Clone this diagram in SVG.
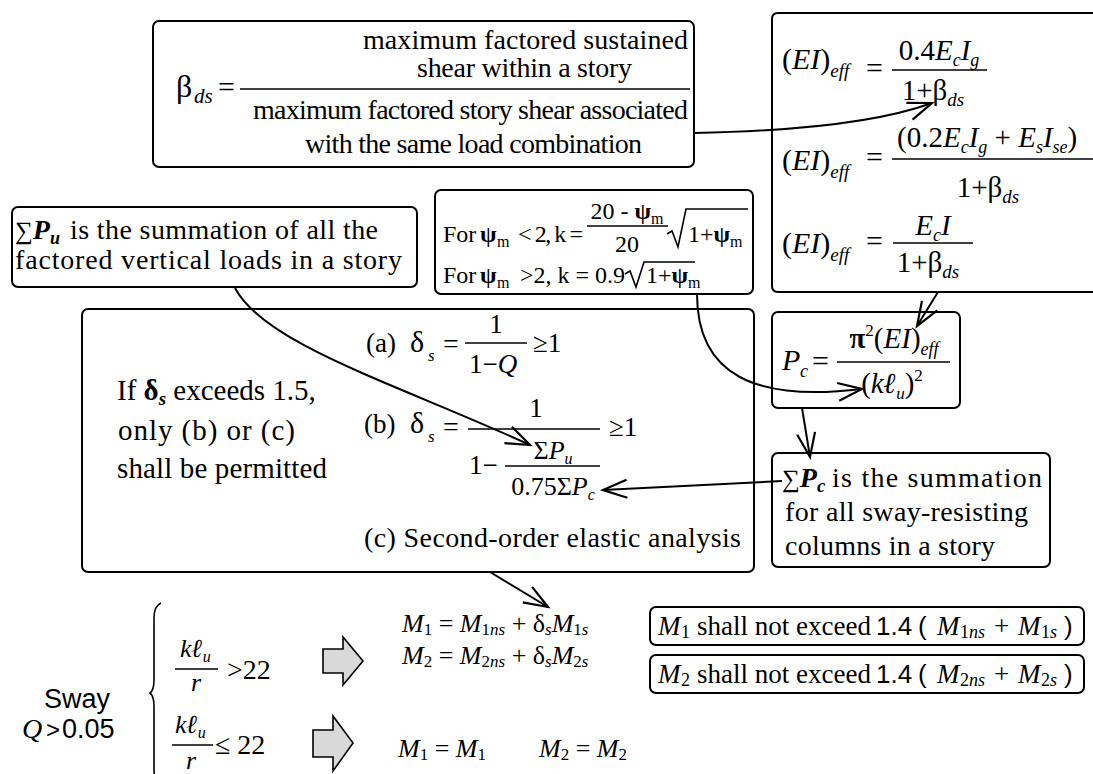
<svg xmlns="http://www.w3.org/2000/svg" width="1093" height="774" viewBox="0 0 1093 774">
<defs>
<style>
.t{font-family:"Liberation Serif","Times New Roman",serif;fill:#000}
.i{font-style:italic}
.b{font-weight:bold}
.s{font-family:"Liberation Sans",Arial,sans-serif}
.box{fill:#fff;stroke:#000;stroke-width:2}
.ln{stroke:#000;stroke-width:1.6;fill:none}
.c{fill:none;stroke:#000;stroke-width:2;marker-end:url(#ah)}
.blk{fill:#d9d9d9;stroke:#000;stroke-width:1.6}
</style>
<marker id="ah" viewBox="-26 -13 30 26" markerWidth="30" markerHeight="26" refX="0" refY="0" orient="auto" markerUnits="userSpaceOnUse">
<path d="M-24,-9 L0,0 L-24,9" fill="none" stroke="#000" stroke-width="2.2"/>
</marker>
</defs>
<rect width="1093" height="774" fill="#fff"/>

<g id="n-beta">
<rect class="box" x="153" y="21" width="541" height="146" rx="6"/>
<text class="t" x="176" y="97" font-size="32">β</text>
<text class="t i" x="194" y="103" font-size="21">ds</text>
<text class="t" x="218" y="97" font-size="30">=</text>
<line class="ln" x1="240" y1="89" x2="690" y2="89"/>
<text class="t" x="363" y="49" font-size="28" textLength="325">maximum factored sustained</text>
<text class="t" x="417" y="77" font-size="28" textLength="215">shear within a story</text>
<text class="t" x="253" y="119" font-size="28" textLength="435">maximum  factored story shear associated</text>
<text class="t" x="305" y="153" font-size="28" textLength="337">with the same load combination</text>
</g>

<g id="n-ei">
<path class="box" d="M1100,13 H778 Q772,13 772,19 V286 Q772,292 778,292 H1100"/>
<text class="t" x="782" y="69" font-size="30">(<tspan class="i">EI</tspan>)<tspan class="i" font-size="19" dy="8">eff</tspan></text>
<text class="t" x="866" y="78" font-size="30">=</text>
<line class="ln" x1="892" y1="70" x2="987" y2="70"/>
<text class="t" x="939" y="60" font-size="29" text-anchor="middle">0.4<tspan class="i">E</tspan><tspan class="i" font-size="18" dy="6">c</tspan><tspan class="i" dy="-6">I</tspan><tspan class="i" font-size="18" dy="6">g</tspan></text>
<text class="t" x="933" y="100" font-size="29" text-anchor="middle">1+β<tspan class="i" font-size="19" dy="6">ds</tspan></text>

<text class="t" x="782" y="170" font-size="30">(<tspan class="i">EI</tspan>)<tspan class="i" font-size="19" dy="8">eff</tspan></text>
<text class="t" x="866" y="167" font-size="30">=</text>
<line class="ln" x1="892" y1="159" x2="1093" y2="159"/>
<text class="t" x="897" y="147" font-size="29">(0.2<tspan class="i">E</tspan><tspan class="i" font-size="18" dy="6">c</tspan><tspan class="i" dy="-6">I</tspan><tspan class="i" font-size="18" dy="6">g</tspan><tspan dy="-6"> + </tspan><tspan class="i">E</tspan><tspan class="i" font-size="18" dy="6">s</tspan><tspan class="i" dy="-6">I</tspan><tspan class="i" font-size="18" dy="6">se</tspan><tspan dy="-6">)</tspan></text>
<text class="t" x="988" y="197" font-size="29" text-anchor="middle">1+β<tspan class="i" font-size="19" dy="6">ds</tspan></text>

<text class="t" x="782" y="253" font-size="30">(<tspan class="i">EI</tspan>)<tspan class="i" font-size="19" dy="8">eff</tspan></text>
<text class="t" x="866" y="251" font-size="30">=</text>
<line class="ln" x1="893" y1="243" x2="973" y2="243"/>
<text class="t" x="933" y="235" font-size="29" text-anchor="middle"><tspan class="i">E</tspan><tspan class="i" font-size="18" dy="6">c</tspan><tspan class="i" dy="-6">I</tspan></text>
<text class="t" x="928" y="272" font-size="29" text-anchor="middle">1+β<tspan class="i" font-size="19" dy="6">ds</tspan></text>
</g>

<g id="n-sumpu">
<rect class="box" x="12" y="207" width="405" height="80" rx="6"/>
<text class="t" x="15" y="239" font-size="25">∑<tspan class="b i" font-size="28">P</tspan><tspan class="b i" font-size="18" dy="5">u</tspan></text>
<text class="t" x="70" y="239" font-size="28" textLength="308">is the summation of all the</text>
<text class="t" x="15" y="269" font-size="28" textLength="387">factored vertical loads  in  a  story</text>
</g>

<g id="n-psi">
<rect class="box" x="435" y="190" width="318" height="104" rx="6"/>
<text class="t" x="443" y="242" font-size="24">For</text>
<text class="t b" x="480" y="242" font-size="24">ψ</text>
<text class="t" x="497" y="247" font-size="16">m</text>
<text class="t" x="518" y="242" font-size="24" textLength="65">&lt; 2, k =</text>
<text class="t" x="627" y="219" font-size="24" text-anchor="middle">20 - <tspan class="b">ψ</tspan><tspan font-size="16" dy="5">m</tspan></text>
<line class="ln" x1="587" y1="226" x2="668" y2="226"/>
<text class="t" x="627" y="252" font-size="24" text-anchor="middle">20</text>
<path class="ln" d="M667,234 L672,231 L678,247 L686,209 H748"/>
<text class="t" x="688" y="242" font-size="24">1+<tspan class="b">ψ</tspan><tspan font-size="16" dy="5">m</tspan></text>
<text class="t" x="443" y="283" font-size="24">For</text>
<text class="t b" x="480" y="283" font-size="24">ψ</text>
<text class="t" x="497" y="288" font-size="16">m</text>
<text class="t" x="520" y="283" font-size="24" textLength="105">&gt;2, k = 0.9</text>
<path class="ln" d="M625,274 L630,271 L636,287 L644,262 H695"/>
<text class="t" x="646" y="283" font-size="24">1+<tspan class="b">ψ</tspan><tspan font-size="16" dy="5">m</tspan></text>
</g>

<g id="n-delta">
<rect class="box" x="82" y="309" width="672" height="263" rx="6"/>
<text class="t" x="117" y="400" font-size="29">If <tspan class="b">δ</tspan><tspan class="b i" font-size="19" dy="5">s</tspan><tspan dy="-5"> exceeds  1.5,</tspan></text>
<text class="t" x="118" y="440" font-size="29" textLength="177">only  (b)  or  (c)</text>
<text class="t" x="117" y="478" font-size="29" textLength="210">shall  be permitted</text>

<text class="t" x="366" y="352" font-size="27">(a)</text>
<text class="t" x="410" y="352" font-size="30">δ</text>
<text class="t i" x="428" y="361" font-size="17">s</text>
<text class="t" x="443" y="353" font-size="28">=</text>
<line class="ln" x1="465" y1="343" x2="527" y2="343"/>
<text class="t" x="496" y="333" font-size="27" text-anchor="middle">1</text>
<text class="t" x="469" y="373" font-size="27">1−<tspan class="i">Q</tspan></text>
<text class="t" x="533" y="352" font-size="27">≥1</text>

<text class="t" x="364" y="433" font-size="27">(b)</text>
<text class="t" x="410" y="433" font-size="30">δ</text>
<text class="t i" x="428" y="442" font-size="17">s</text>
<text class="t" x="443" y="436" font-size="28">=</text>
<line class="ln" x1="468" y1="429" x2="600" y2="429"/>
<text class="t" x="536" y="417" font-size="27" text-anchor="middle">1</text>
<text class="t" x="469" y="474" font-size="27">1−</text>
<line class="ln" x1="505" y1="466" x2="600" y2="466"/>
<text class="t" x="553" y="459" font-size="26" text-anchor="middle">Σ<tspan class="i">P</tspan><tspan class="i" font-size="16" dy="5">u</tspan></text>
<text class="t" x="553" y="495" font-size="26" text-anchor="middle">0.75Σ<tspan class="i">P</tspan><tspan class="i" font-size="16" dy="5">c</tspan></text>
<text class="t" x="609" y="436" font-size="27">≥1</text>

<text class="t" x="364" y="547" font-size="28" textLength="377">(c) Second-order elastic analysis</text>
</g>

<g id="n-pc">
<rect class="box" x="772" y="312" width="188" height="96" rx="6"/>
<text class="t i" x="782" y="370" font-size="30">P</text>
<text class="t i" x="800" y="377" font-size="18">c</text>
<text class="t" x="812" y="371" font-size="30">=</text>
<line class="ln" x1="837" y1="362" x2="950" y2="362"/>
<text class="t" x="894" y="348" font-size="29" text-anchor="middle"><tspan class="b">π</tspan><tspan font-size="17" dy="-12">2</tspan><tspan dy="12">(</tspan><tspan class="i">EI</tspan>)<tspan class="i" font-size="18" dy="7">eff</tspan></text>
<text class="t" x="892" y="393" font-size="29" text-anchor="middle">(<tspan class="i">k</tspan><tspan class="b i">ℓ</tspan><tspan class="i" font-size="17" dy="6">u</tspan><tspan dy="-6">)</tspan><tspan font-size="17" dy="-12">2</tspan></text>
</g>

<g id="n-sumpc">
<rect class="box" x="772" y="453" width="278" height="114" rx="6"/>
<text class="t" x="782" y="487" font-size="25">∑<tspan class="b i" font-size="28">P</tspan><tspan class="b i" font-size="19" dy="5">c</tspan></text>
<text class="t" x="832" y="487" font-size="28" textLength="210">is  the  summation</text>
<text class="t" x="785" y="521" font-size="28" textLength="243">for all sway-resisting</text>
<text class="t" x="785" y="555" font-size="28" textLength="210">columns in a story</text>
</g>

<g id="n-m1limit">
<rect class="box" x="650" y="607" width="434" height="38" rx="6"/>
<text class="t i" x="658" y="635" font-size="27">M</text>
<text class="t" x="681" y="638" font-size="18">1</text>
<text class="t" x="697" y="635" font-size="27" textLength="174">shall not exceed</text>
<text class="t s" x="876" y="635" font-size="26">1.4</text>
<text class="t s" x="918" y="635" font-size="26">(</text>
<text class="t i" x="937" y="635" font-size="27">M</text>
<text class="t" x="960" y="638" font-size="18">1<tspan class="i">ns</tspan></text>
<text class="t" x="994" y="635" font-size="27">+</text>
<text class="t i" x="1018" y="635" font-size="27">M</text>
<text class="t" x="1041" y="638" font-size="18">1<tspan class="i">s</tspan></text>
<text class="t s" x="1064" y="635" font-size="26">)</text>
</g>

<g id="n-m2limit">
<rect class="box" x="650" y="655" width="434" height="38" rx="6"/>
<text class="t i" x="658" y="683" font-size="27">M</text>
<text class="t" x="681" y="686" font-size="18">2</text>
<text class="t" x="697" y="683" font-size="27" textLength="174">shall not exceed</text>
<text class="t s" x="876" y="683" font-size="26">1.4</text>
<text class="t s" x="918" y="683" font-size="26">(</text>
<text class="t i" x="937" y="683" font-size="27">M</text>
<text class="t" x="960" y="686" font-size="18">2<tspan class="i">ns</tspan></text>
<text class="t" x="994" y="683" font-size="27">+</text>
<text class="t i" x="1018" y="683" font-size="27">M</text>
<text class="t" x="1041" y="686" font-size="18">2<tspan class="i">s</tspan></text>
<text class="t s" x="1064" y="683" font-size="26">)</text>
</g>

<g id="n-sway">
<text class="t s" x="77" y="708" font-size="27" text-anchor="middle">Sway</text>
<text class="t i" x="22" y="738" font-size="28">Q</text>
<text class="t s" x="46" y="738" font-size="24">&gt;</text>
<text class="t s" x="62" y="738" font-size="27">0.05</text>
<path class="ln" d="M161,603 Q154,606 154,618 L154,680 Q154,690 150,693 Q154,696 154,706 L154,770 Q154,780 161,784"/>
<text class="t" x="180" y="657" font-size="26"><tspan class="i">k</tspan><tspan class="b i">ℓ</tspan><tspan class="i" font-size="16" dy="5">u</tspan></text>
<line class="ln" x1="175" y1="669" x2="218" y2="669"/>
<text class="t i" x="191" y="691" font-size="26">r</text>
<text class="t" x="227" y="679" font-size="28">&gt;22</text>
<text class="t" x="175" y="733" font-size="26"><tspan class="i">k</tspan><tspan class="b i">ℓ</tspan><tspan class="i" font-size="16" dy="5">u</tspan></text>
<line class="ln" x1="172" y1="745" x2="213" y2="745"/>
<text class="t i" x="186" y="769" font-size="26">r</text>
<text class="t" x="215" y="754" font-size="28">≤ 22</text>
<polygon class="blk" points="323,649 343,649 343,637 363,661 343,685 343,673 323,673"/>
<polygon class="blk" points="313,730 333,730 333,716 353,743 333,771 333,757 313,757"/>
<text class="t" x="402" y="632" font-size="26"><tspan class="i">M</tspan><tspan font-size="17" dy="3">1</tspan><tspan dy="-3"> = </tspan><tspan class="i">M</tspan><tspan font-size="17" dy="3">1<tspan class="i">ns</tspan></tspan><tspan dy="-3"> + δ</tspan><tspan class="i" font-size="17" dy="3">s</tspan><tspan class="i" dy="-3">M</tspan><tspan font-size="17" dy="3">1<tspan class="i">s</tspan></tspan></text>
<text class="t" x="402" y="664" font-size="26"><tspan class="i">M</tspan><tspan font-size="17" dy="3">2</tspan><tspan dy="-3"> = </tspan><tspan class="i">M</tspan><tspan font-size="17" dy="3">2<tspan class="i">ns</tspan></tspan><tspan dy="-3"> + δ</tspan><tspan class="i" font-size="17" dy="3">s</tspan><tspan class="i" dy="-3">M</tspan><tspan font-size="17" dy="3">2<tspan class="i">s</tspan></tspan></text>
<text class="t" x="398" y="757" font-size="26"><tspan class="i">M</tspan><tspan font-size="17" dy="3">1</tspan><tspan dy="-3"> = </tspan><tspan class="i">M</tspan><tspan font-size="17" dy="3">1</tspan></text>
<text class="t" x="539" y="757" font-size="26"><tspan class="i">M</tspan><tspan font-size="17" dy="3">2</tspan><tspan dy="-3"> = </tspan><tspan class="i">M</tspan><tspan font-size="17" dy="3">2</tspan></text>
</g>

<g id="connectors">
<path class="c" d="M694,133 C800,131 880,122 932,103"/>
<path class="c" d="M235,288 C265,345 400,385 530,445"/>
<path class="c" d="M697,294 C697,375 755,402 862,389"/>
<path class="c" d="M938,292 L917,326"/>
<path class="c" d="M802,408 L810,457"/>
<path class="c" d="M782,481 L603,490"/>
<path class="c" d="M490,572 L548,607"/>
</g>
</svg>
